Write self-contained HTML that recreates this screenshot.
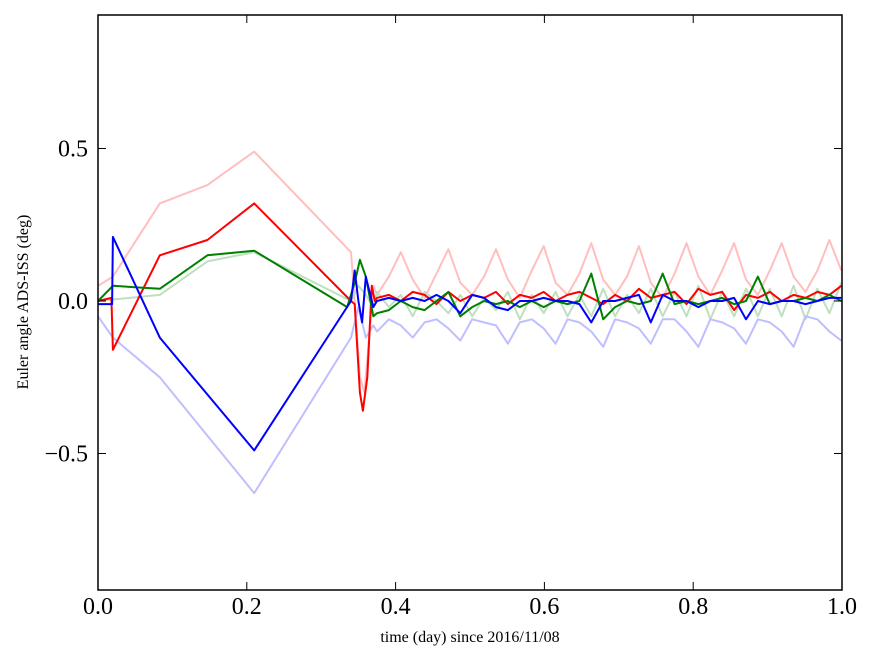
<!DOCTYPE html>
<html><head><meta charset="utf-8"><style>
body{margin:0;background:#fff}
svg{display:block;font-family:"Liberation Serif",serif}
</style></head><body>
<svg id="chart" width="875" height="662" viewBox="0 0 875 662" xmlns="http://www.w3.org/2000/svg">
<rect width="875" height="662" fill="#fff"/>
<g id="series"></g>
<g id="axes"></g>
<text x="470" y="642" font-size="16" text-anchor="middle">time (day) since 2016/11/08</text>
<text transform="translate(28,302) rotate(-90)" font-size="16" text-anchor="middle">Euler angle ADS-ISS (deg)</text>
</svg>
<script>
const xTicks=[0,0.2,0.4,0.6,0.8,1.0];
const xTickLabels=["0.0","0.2","0.4","0.6","0.8","1.0"];
const yTicks=[-0.5,0,0.5];
const yTickLabels=["\u22120.5","0.0","0.5"];
const tailT=[];for(let i=0;i<40;i++)tailT.push(0.375+i*0.016);
const pinkHead=[[0,0.05],[0.02,0.08],[0.083,0.32],[0.147,0.38],[0.21,0.49],[0.34,0.16],[0.345,0.0],[0.352,-0.25],[0.358,-0.3],[0.365,-0.1],[0.37,0.05]];
const pinkTail=[0.02,0.08,0.16,0.07,0.01,0.09,0.17,0.06,0.02,0.08,0.17,0.07,0.01,0.1,0.18,0.06,0.02,0.09,0.19,0.07,0.02,0.08,0.18,0.06,0.01,0.09,0.19,0.08,0.02,0.1,0.19,0.07,0.02,0.1,0.19,0.08,0.03,0.1,0.2,0.1];
const lblueHead=[[0,-0.05],[0.02,-0.12],[0.083,-0.25],[0.21,-0.63],[0.34,-0.12],[0.35,-0.02],[0.36,-0.12],[0.37,-0.08]];
const lblueTail=[-0.1,-0.06,-0.08,-0.12,-0.07,-0.06,-0.09,-0.13,-0.06,-0.07,-0.08,-0.14,-0.07,-0.06,-0.09,-0.14,-0.06,-0.07,-0.1,-0.15,-0.06,-0.07,-0.09,-0.14,-0.06,-0.06,-0.1,-0.15,-0.06,-0.07,-0.09,-0.14,-0.06,-0.07,-0.1,-0.15,-0.05,-0.06,-0.1,-0.13];
const lgreenHead=[[0,0.0],[0.083,0.02],[0.147,0.13],[0.21,0.16],[0.34,0.0],[0.35,0.05],[0.36,0.02],[0.37,-0.02]];
const lgreenTail=[0.03,-0.02,0.02,-0.05,0.03,0.0,-0.04,0.02,-0.05,0.01,-0.03,0.03,-0.06,0.02,-0.04,0.03,-0.05,0.02,-0.05,0.04,-0.05,0.02,-0.04,0.04,-0.05,0.03,-0.05,0.05,-0.06,0.03,-0.05,0.04,-0.05,0.04,-0.05,0.05,-0.06,0.04,-0.04,0.06];
const redHead=[[0,0.0],[0.018,0.01],[0.02,-0.16],[0.083,0.15],[0.147,0.2],[0.21,0.32],[0.34,0.0],[0.345,-0.01],[0.352,-0.3],[0.356,-0.36],[0.362,-0.25],[0.368,0.05],[0.372,0.0]];
const redTail=[0.01,0.02,0.0,0.03,0.02,-0.01,0.03,0.0,0.02,0.01,0.03,-0.01,0.02,0.01,0.03,0.0,0.02,0.03,0.01,-0.01,0.02,0.0,0.04,0.01,0.02,0.03,-0.01,0.04,0.02,0.03,-0.03,0.02,0.01,0.03,0.0,0.02,0.01,0.03,0.02,0.05];
const greenHead=[[0,0.0],[0.02,0.05],[0.083,0.04],[0.147,0.15],[0.21,0.165],[0.335,-0.02],[0.345,0.06],[0.352,0.135],[0.36,0.08],[0.37,-0.05]];
const greenTail=[-0.04,-0.03,0.0,-0.02,-0.03,0.0,0.03,-0.05,-0.02,0.0,-0.01,0.0,-0.02,0.0,-0.02,0.0,-0.01,0.0,0.09,-0.06,-0.02,0.0,-0.01,0.0,0.09,-0.01,0.0,-0.01,0.0,0.01,-0.01,0.0,0.08,-0.01,0.0,0.0,0.01,0.0,0.02,0.0];
const blueHead=[[0,-0.01],[0.019,-0.01],[0.02,0.21],[0.083,-0.12],[0.21,-0.49],[0.34,0.0],[0.345,0.1],[0.35,0.0],[0.355,-0.07],[0.36,0.08],[0.37,-0.02]];
const blueTail=[0.0,0.01,0.0,0.01,0.0,0.02,0.0,-0.04,0.02,0.01,-0.02,-0.03,0.0,0.0,0.01,0.0,0.0,-0.01,-0.07,0.0,0.0,0.01,0.02,-0.07,0.02,0.0,0.0,-0.02,0.0,0.0,0.01,-0.06,0.0,-0.01,0.0,0.0,-0.01,0.0,0.01,0.01];

const X0=98,X1=842,Y0=15,Y1=590;
function xs(t){return X0+t*(X1-X0);}
function ys(v){return 301-v*305;}
const NS="http://www.w3.org/2000/svg";
const sg=document.getElementById('series');
function draw(head,tail,color,name,w){
  const pts=head.map(p=>[xs(p[0]),ys(p[1])]).concat(tail.map((v,i)=>[xs(tailT[i]),ys(v)]));
  const pl=document.createElementNS(NS,'polyline');
  pl.setAttribute('points',pts.map(p=>p[0].toFixed(1)+','+p[1].toFixed(1)).join(' '));
  pl.setAttribute('fill','none');pl.setAttribute('stroke',color);pl.setAttribute('stroke-width',w);
  pl.setAttribute('stroke-linejoin','round');
  
  
  sg.appendChild(pl);
}
draw(pinkHead,pinkTail,'#ffbfbf','series-light-red',2);
draw(lgreenHead,lgreenTail,'#bfdfbf','series-light-green',2);
draw(lblueHead,lblueTail,'#bfbfff','series-light-blue',2);
draw(redHead,redTail,'#ff0000','series-red',2);
draw(greenHead,greenTail,'#008000','series-green',2);
draw(blueHead,blueTail,'#0000ff','series-blue',2);

const ag=document.getElementById('axes');
const fr=document.createElementNS(NS,'rect');
fr.setAttribute('x',X0);fr.setAttribute('y',Y0);fr.setAttribute('width',X1-X0);fr.setAttribute('height',Y1-Y0);
fr.setAttribute('fill','none');fr.setAttribute('stroke','#000');fr.setAttribute('stroke-width','1.5');


ag.appendChild(fr);
function line(x1,y1,x2,y2){const l=document.createElementNS(NS,'line');l.setAttribute('x1',x1);l.setAttribute('y1',y1);l.setAttribute('x2',x2);l.setAttribute('y2',y2);l.setAttribute('stroke','#000');l.setAttribute('stroke-width','1');


ag.appendChild(l);}
xTicks.forEach((t,i)=>{const x=xs(t);line(x,Y1,x,Y1-8);line(x,Y0,x,Y0+8);
  const tx=document.createElementNS(NS,'text');tx.setAttribute('x',x);tx.setAttribute('y',614);tx.setAttribute('font-size','24');tx.setAttribute('text-anchor','middle');tx.textContent=xTickLabels[i];
  
  
  ag.appendChild(tx);});
yTicks.forEach((v,i)=>{const y=ys(v);line(X0,y,X0+8,y);line(X1,y,X1-8,y);
  const tx=document.createElementNS(NS,'text');tx.setAttribute('x',88);tx.setAttribute('y',y+8);tx.setAttribute('font-size','24');tx.setAttribute('text-anchor','end');tx.textContent=yTickLabels[i];
  
  
  ag.appendChild(tx);});
</script>
</body></html>
